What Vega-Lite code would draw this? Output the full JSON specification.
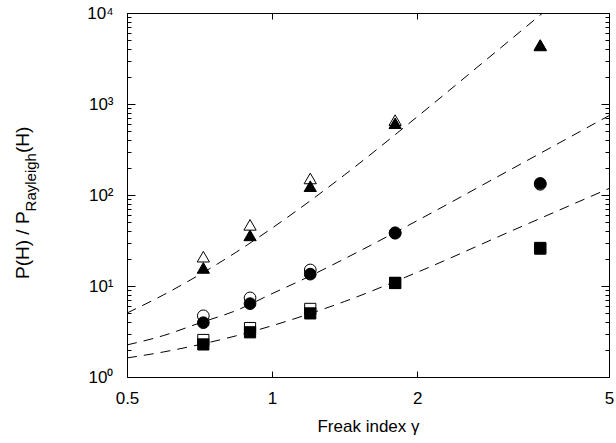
{
  "$schema": "https://vega.github.io/schema/vega-lite/v6.json",
  "width": 482,
  "height": 364,
  "autosize": {"type": "none"},
  "padding": {"left": 127, "top": 13, "right": 7, "bottom": 66},
  "config": {"view": {"stroke": null}, "font": "Liberation Sans"},
  "datasets": {
    "curves": [
      {"curve": "A", "x": 0.5, "y": 5.05},
      {"curve": "A", "x": 0.596, "y": 8.02},
      {"curve": "A", "x": 0.708, "y": 13.37},
      {"curve": "A", "x": 0.841, "y": 23.4},
      {"curve": "A", "x": 1.0, "y": 43.3},
      {"curve": "A", "x": 1.189, "y": 83.4},
      {"curve": "A", "x": 1.413, "y": 166},
      {"curve": "A", "x": 1.995, "y": 716},
      {"curve": "A", "x": 2.818, "y": 3243},
      {"curve": "A", "x": 3.631, "y": 9863},
      {"curve": "A", "x": 4.365, "y": 22180},
      {"curve": "B", "x": 0.5, "y": 2.25},
      {"curve": "B", "x": 0.596, "y": 2.86},
      {"curve": "B", "x": 0.708, "y": 3.93},
      {"curve": "B", "x": 0.841, "y": 5.36},
      {"curve": "B", "x": 1.0, "y": 8.24},
      {"curve": "B", "x": 1.189, "y": 12.6},
      {"curve": "B", "x": 1.413, "y": 19.9},
      {"curve": "B", "x": 1.995, "y": 51.9},
      {"curve": "B", "x": 3.162, "y": 197},
      {"curve": "B", "x": 5.0, "y": 745},
      {"curve": "C", "x": 0.5, "y": 1.62},
      {"curve": "C", "x": 0.596, "y": 1.887},
      {"curve": "C", "x": 0.708, "y": 2.275},
      {"curve": "C", "x": 0.841, "y": 2.83},
      {"curve": "C", "x": 1.0, "y": 3.66},
      {"curve": "C", "x": 1.189, "y": 4.9},
      {"curve": "C", "x": 1.413, "y": 6.75},
      {"curve": "C", "x": 1.995, "y": 14.06},
      {"curve": "C", "x": 3.162, "y": 41.0},
      {"curve": "C", "x": 5.0, "y": 117.8}
    ],
    "markers": [
      {"marker": "triangle", "kind": "open", "x": 0.72, "y": 21},
      {"marker": "triangle", "kind": "open", "x": 0.9, "y": 47},
      {"marker": "triangle", "kind": "open", "x": 1.2, "y": 152},
      {"marker": "triangle", "kind": "open", "x": 1.8, "y": 665},
      {"marker": "triangle", "kind": "open", "x": 3.6, "y": 4400},
      {"marker": "circle", "kind": "open", "x": 0.72, "y": 4.7},
      {"marker": "circle", "kind": "open", "x": 0.9, "y": 7.4},
      {"marker": "circle", "kind": "open", "x": 1.2, "y": 15},
      {"marker": "circle", "kind": "open", "x": 1.8, "y": 38.5},
      {"marker": "circle", "kind": "open", "x": 3.6, "y": 131},
      {"marker": "square", "kind": "open", "x": 0.72, "y": 2.55},
      {"marker": "square", "kind": "open", "x": 0.9, "y": 3.45},
      {"marker": "square", "kind": "open", "x": 1.2, "y": 5.6},
      {"marker": "square", "kind": "open", "x": 1.8, "y": 10.8},
      {"marker": "square", "kind": "open", "x": 3.6, "y": 25.7},
      {"marker": "triangle", "kind": "filled", "x": 0.72, "y": 15.8},
      {"marker": "triangle", "kind": "filled", "x": 0.9, "y": 36},
      {"marker": "triangle", "kind": "filled", "x": 1.2, "y": 125},
      {"marker": "triangle", "kind": "filled", "x": 1.8, "y": 615},
      {"marker": "triangle", "kind": "filled", "x": 3.6, "y": 4450},
      {"marker": "circle", "kind": "filled", "x": 0.72, "y": 3.95},
      {"marker": "circle", "kind": "filled", "x": 0.9, "y": 6.4},
      {"marker": "circle", "kind": "filled", "x": 1.2, "y": 13.5},
      {"marker": "circle", "kind": "filled", "x": 1.8, "y": 38},
      {"marker": "circle", "kind": "filled", "x": 3.6, "y": 134},
      {"marker": "square", "kind": "filled", "x": 0.72, "y": 2.28},
      {"marker": "square", "kind": "filled", "x": 0.9, "y": 3.1},
      {"marker": "square", "kind": "filled", "x": 1.2, "y": 5.0},
      {"marker": "square", "kind": "filled", "x": 1.8, "y": 10.8},
      {"marker": "square", "kind": "filled", "x": 3.6, "y": 26.2}
    ]
  },
  "layer": [
    {
      "layer": [
        {
          "data": {"name": "curves"},
          "mark": {"type": "line", "color": "black", "strokeWidth": 1, "strokeDash": [10, 7], "clip": true, "interpolate": "monotone"},
          "encoding": {
            "x": {
              "field": "x", "type": "quantitative",
              "scale": {"type": "log", "domain": [0.5, 5], "nice": false},
              "axis": {
                "orient": "bottom", "values": [0.5, 1, 2, 5], "format": "~g",
                "labelFlush": false, "labelOverlap": false, "grid": false,
                "tickSize": -6, "labelPadding": 19, "tickColor": "black", "domainColor": "black",
                "labelFont": "Liberation Sans", "labelFontSize": 17, "labelColor": "black",
                "title": "Freak index γ", "titleFont": "Liberation Sans", "titleFontSize": 17,
                "titleFontWeight": "normal", "titleColor": "black", "titlePadding": 12
              }
            },
            "y": {
              "field": "y", "type": "quantitative",
              "scale": {"type": "log", "domain": [1, 10000], "nice": false},
              "axis": {
                "orient": "left",
                "values": [1,2,3,4,5,6,7,8,9,10,20,30,40,50,60,70,80,90,100,200,300,400,500,600,700,800,900,1000,2000,3000,4000,5000,6000,7000,8000,9000,10000],
                "labelExpr": "datum.value == 1 ? '10⁰' : datum.value == 10 ? '10¹' : datum.value == 100 ? '10²' : datum.value == 1000 ? '10³' : datum.value == 10000 ? '10⁴' : ''",
                "labelOverlap": false, "labelFlush": false, "grid": false,
                "tickSize": {"condition": {"test": "indexof([1,10,100,1000,10000], datum.value) >= 0", "value": -8}, "value": -4},
                "labelPadding": 22, "tickColor": "black", "domainColor": "black",
                "labelFont": "Liberation Sans", "labelFontSize": 17, "labelColor": "black",
                "title": null
              }
            },
            "detail": {"field": "curve"}
          }
        },
        {
          "data": {"values": [{"t": "P(H) / P"}]},
          "mark": {"type": "text", "angle": 270, "align": "left", "baseline": "alphabetic", "fontSize": 19, "font": "Liberation Sans", "color": "black"},
          "encoding": {
            "text": {"field": "t"},
            "x": {"datum": 0.3131, "type": "quantitative", "scale": {"type": "log", "domain": [0.5, 5], "nice": false}},
            "y": {"datum": 11.94, "type": "quantitative", "scale": {"type": "log", "domain": [1, 10000], "nice": false}}
          }
        },
        {
          "data": {"values": [{"t": "Rayleigh"}]},
          "mark": {"type": "text", "angle": 270, "align": "left", "baseline": "alphabetic", "fontSize": 15, "font": "Liberation Sans", "color": "black"},
          "encoding": {
            "text": {"field": "t"},
            "x": {"datum": 0.3238, "type": "quantitative", "scale": {"type": "log", "domain": [0.5, 5], "nice": false}},
            "y": {"datum": 66.0, "type": "quantitative", "scale": {"type": "log", "domain": [1, 10000], "nice": false}}
          }
        },
        {
          "data": {"values": [{"t": "(H)"}]},
          "mark": {"type": "text", "angle": 270, "align": "left", "baseline": "alphabetic", "fontSize": 19, "font": "Liberation Sans", "color": "black"},
          "encoding": {
            "text": {"field": "t"},
            "x": {"datum": 0.3131, "type": "quantitative", "scale": {"type": "log", "domain": [0.5, 5], "nice": false}},
            "y": {"datum": 289.4, "type": "quantitative", "scale": {"type": "log", "domain": [1, 10000], "nice": false}}
          }
        }
      ]
    },
    {
      "data": {"name": "markers"},
      "mark": {"type": "point", "filled": true, "stroke": "black", "strokeWidth": 1, "opacity": 1},
      "encoding": {
        "x": {
          "field": "x", "type": "quantitative",
          "scale": {"type": "log", "domain": [0.5, 5], "nice": false},
          "axis": {
            "orient": "top", "values": [0.5, 1, 2, 5], "labels": false, "grid": false,
            "tickSize": -6, "tickColor": "black", "domainColor": "black", "title": null
          }
        },
        "y": {
          "field": "y", "type": "quantitative",
          "scale": {"type": "log", "domain": [1, 10000], "nice": false},
          "axis": {
            "orient": "right", "labels": false, "grid": false, "title": null,
            "values": [1,2,3,4,5,6,7,8,9,10,20,30,40,50,60,70,80,90,100,200,300,400,500,600,700,800,900,1000,2000,3000,4000,5000,6000,7000,8000,9000,10000],
            "tickSize": {"condition": {"test": "indexof([1,10,100,1000,10000], datum.value) >= 0", "value": -8}, "value": -4},
            "tickColor": "black", "domainColor": "black"
          }
        },
        "shape": {"field": "marker", "type": "nominal", "scale": {"domain": ["triangle", "circle", "square"], "range": ["triangle-up", "circle", "square"]}, "legend": null},
        "size": {"field": "marker", "type": "nominal", "scale": {"domain": ["triangle", "circle", "square"], "range": [150, 125, 115]}, "legend": null},
        "fill": {"field": "kind", "type": "nominal", "scale": {"domain": ["open", "filled"], "range": ["white", "black"]}, "legend": null}
      }
    }
  ],
  "resolve": {"scale": {"x": "independent", "y": "independent", "shape": "independent", "size": "independent", "fill": "independent"}}
}
